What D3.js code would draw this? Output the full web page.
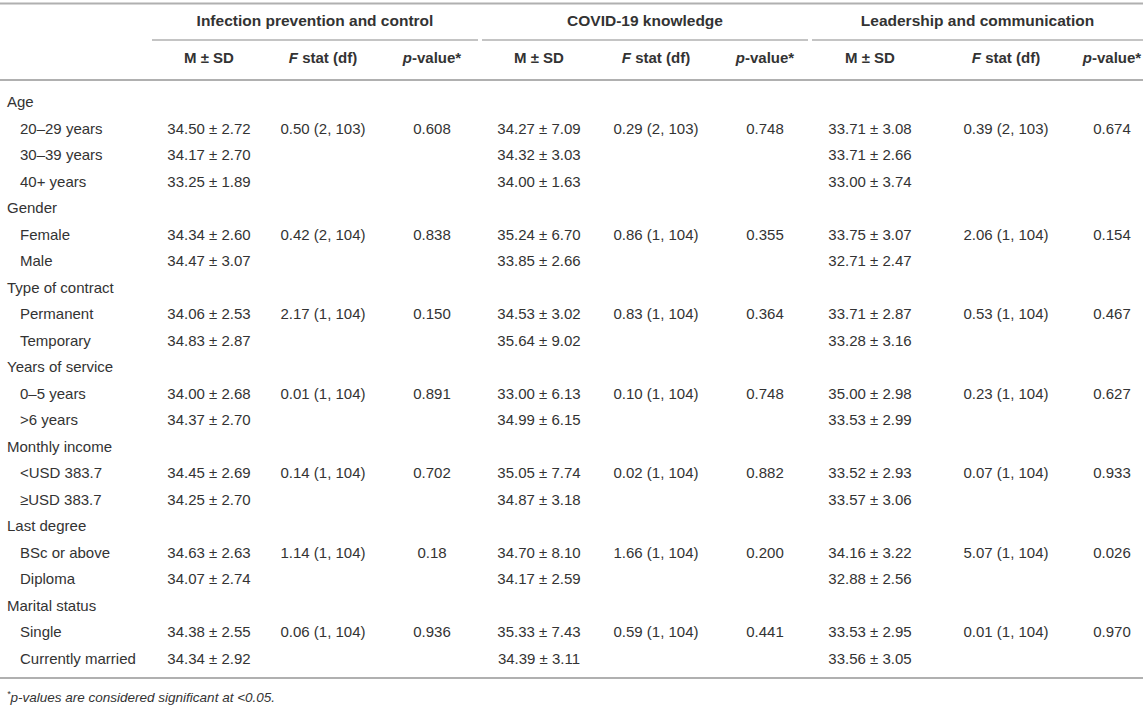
<!DOCTYPE html>
<html>
<head>
<meta charset="utf-8">
<script src="https://cdn.jsdelivr.net/npm/d3@7"></script>
<style>
  body { margin: 0; background: #fff; }
  svg text { font-family: "Liberation Sans", Arial, sans-serif; fill: #333; }
</style>
</head>
<body>
<script>
const groups = ["Infection prevention and control", "COVID-19 knowledge", "Leadership and communication"];
const variables = ["Age", "Gender", "Type of contract", "Years of service", "Monthly income", "Last degree", "Marital status"];
const levels = [
  ["20–29 years", "30–39 years", "40+ years"],
  ["Female", "Male"],
  ["Permanent", "Temporary"],
  ["0–5 years", ">6 years"],
  ["<USD 383.7", "≥USD 383.7"],
  ["BSc or above", "Diploma"],
  ["Single", "Currently married"]
];

// Infection prevention and control
const ipcMean = [[34.50, 34.17, 33.25], [34.34, 34.47], [34.06, 34.83], [34.00, 34.37], [34.45, 34.25], [34.63, 34.07], [34.38, 34.34]];
const ipcSd = [[2.72, 2.70, 1.89], [2.60, 3.07], [2.53, 2.87], [2.68, 2.70], [2.69, 2.70], [2.63, 2.74], [2.55, 2.92]];
const ipcF = [0.50, 0.42, 2.17, 0.01, 0.14, 1.14, 0.06];
const ipcDf = ["2, 103", "2, 104", "1, 104", "1, 104", "1, 104", "1, 104", "1, 104"];
const ipcP = ["0.608", "0.838", "0.150", "0.891", "0.702", "0.18", "0.936"];

// COVID-19 knowledge
const covMean = [[34.27, 34.32, 34.00], [35.24, 33.85], [34.53, 35.64], [33.00, 34.99], [35.05, 34.87], [34.70, 34.17], [35.33, 34.39]];
const covSd = [[7.09, 3.03, 1.63], [6.70, 2.66], [3.02, 9.02], [6.13, 6.15], [7.74, 3.18], [8.10, 2.59], [7.43, 3.11]];
const covF = [0.29, 0.86, 0.83, 0.10, 0.02, 1.66, 0.59];
const covDf = ["2, 103", "1, 104", "1, 104", "1, 104", "1, 104", "1, 104", "1, 104"];
const covP = ["0.748", "0.355", "0.364", "0.748", "0.882", "0.200", "0.441"];

// Leadership and communication
const ldrMean = [[33.71, 33.71, 33.00], [33.75, 32.71], [33.71, 33.28], [35.00, 33.53], [33.52, 33.57], [34.16, 32.88], [33.53, 33.56]];
const ldrSd = [[3.08, 2.66, 3.74], [3.07, 2.47], [2.87, 3.16], [2.98, 2.99], [2.93, 3.06], [3.22, 2.56], [2.95, 3.05]];
const ldrF = [0.39, 2.06, 0.53, 0.23, 0.07, 5.07, 0.01];
const ldrDf = ["2, 103", "1, 104", "1, 104", "1, 104", "1, 104", "1, 104", "1, 104"];
const ldrP = ["0.674", "0.154", "0.467", "0.627", "0.933", "0.026", "0.970"];

const footnote = "*p-values are considered significant at <0.05.";

const width = 1143;
const height = 706;
const f2 = d3.format(".2f");

const measures = [
  { mean: ipcMean, sd: ipcSd, f: ipcF, df: ipcDf, p: ipcP },
  { mean: covMean, sd: covSd, f: covF, df: covDf, p: covP },
  { mean: ldrMean, sd: ldrSd, f: ldrF, df: ldrDf, p: ldrP }
];

// flatten rows: a heading row per variable then its levels
const rows = [];
variables.forEach((v, i) => {
  rows.push({ type: "var", label: v, vi: i });
  levels[i].forEach((l, j) => rows.push({ type: "level", label: l, vi: i, li: j }));
});

const yScale = d3.scalePoint().domain(d3.range(rows.length)).range([102, 658.5]);

// column centres for each group: [M ± SD, F stat, p-value]
const colX = [[209, 323, 432], [539, 656, 765], [870, 1006, 1112]];
const groupSpan = [[152, 478], [482, 808], [812, 1143]];

const svg = d3.select("body").append("svg")
  .attr("width", width)
  .attr("height", height);

const lineColor = "#b0b0b0";

// rules
svg.append("line").attr("x1", 0).attr("x2", width).attr("y1", 3.5).attr("y2", 3.5)
  .attr("stroke", lineColor).attr("stroke-width", 2);
svg.append("line").attr("x1", 0).attr("x2", width).attr("y1", 80).attr("y2", 80)
  .attr("stroke", lineColor).attr("stroke-width", 2);
svg.append("line").attr("x1", 0).attr("x2", width).attr("y1", 678).attr("y2", 678)
  .attr("stroke", lineColor).attr("stroke-width", 2);

svg.selectAll("line.grp")
  .data(groupSpan)
  .enter()
  .append("line")
  .attr("class", "grp")
  .attr("x1", (d) => d[0])
  .attr("x2", (d) => d[1])
  .attr("y1", 40)
  .attr("y2", 40)
  .attr("stroke", lineColor)
  .attr("stroke-width", 1.5);

// group titles
svg.selectAll("text.grp")
  .data(groups)
  .enter()
  .append("text")
  .attr("class", "grp")
  .attr("x", (d, i) => (groupSpan[i][0] + groupSpan[i][1]) / 2)
  .attr("y", 21)
  .attr("dy", "0.35em")
  .attr("text-anchor", "middle")
  .style("font-size", "15.5px")
  .style("font-weight", "bold")
  .text((d) => d);

// column headers
groups.forEach((g, gi) => {
  const hdr = svg.append("g").style("font-size", "15px").style("font-weight", "bold");
  hdr.append("text")
    .attr("x", colX[gi][0]).attr("y", 58).attr("dy", "0.35em")
    .attr("text-anchor", "middle").text("M ± SD");
  const fh = hdr.append("text")
    .attr("x", colX[gi][1]).attr("y", 58).attr("dy", "0.35em")
    .attr("text-anchor", "middle");
  fh.append("tspan").style("font-style", "italic").text("F");
  fh.append("tspan").text(" stat (df)");
  const ph = hdr.append("text")
    .attr("x", colX[gi][2]).attr("y", 58).attr("dy", "0.35em")
    .attr("text-anchor", "middle");
  ph.append("tspan").style("font-style", "italic").text("p");
  ph.append("tspan").text("-value*");
});

// row labels
svg.selectAll("text.row")
  .data(rows)
  .enter()
  .append("text")
  .attr("class", "row")
  .attr("x", (d) => (d.type === "var" ? 7 : 20))
  .attr("y", (d, i) => yScale(i))
  .attr("dy", "0.35em")
  .style("font-size", "15px")
  .text((d) => d.label);

// cells
const body = svg.append("g").style("font-size", "15px");
rows.forEach((r, i) => {
  if (r.type !== "level") return;
  measures.forEach((m, gi) => {
    body.append("text")
      .attr("x", colX[gi][0]).attr("y", yScale(i)).attr("dy", "0.35em")
      .attr("text-anchor", "middle")
      .text(`${f2(m.mean[r.vi][r.li])} ± ${f2(m.sd[r.vi][r.li])}`);
    if (r.li === 0) {
      body.append("text")
        .attr("x", colX[gi][1]).attr("y", yScale(i)).attr("dy", "0.35em")
        .attr("text-anchor", "middle")
        .text(`${f2(m.f[r.vi])} (${m.df[r.vi]})`);
      body.append("text")
        .attr("x", colX[gi][2]).attr("y", yScale(i)).attr("dy", "0.35em")
        .attr("text-anchor", "middle")
        .text(m.p[r.vi]);
    }
  });
});

// footnote
const fn = svg.append("text")
  .attr("x", 7)
  .attr("y", 697)
  .attr("dy", "0.35em")
  .style("font-size", "13.5px")
  .style("font-style", "italic");
fn.append("tspan").attr("baseline-shift", "super").style("font-size", "9px").text("*");
fn.append("tspan").text(footnote.slice(1));
</script>
</body>
</html>
